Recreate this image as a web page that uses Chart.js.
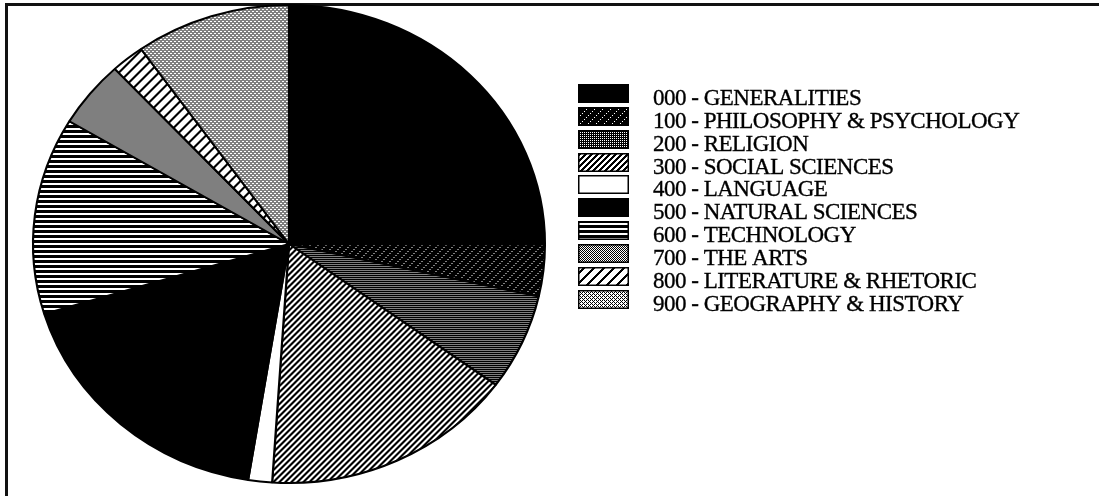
<!DOCTYPE html>
<html lang="en">
<head>
  <meta charset="UTF-8">
  <title>Collection by Dewey class</title>
  <script src="https://cdn.jsdelivr.net/npm/chart.js"></script>
  <style>
    html, body {
      margin: 0;
      padding: 0;
      background: #fff;
    }
    .frame {
      position: relative;
      width: 1099px;
      height: 496px;
      overflow: hidden;
    }
    /* open box: only the top and left rules */
    .frame::before {
      content: "";
      position: absolute;
      left: 5px;
      top: 3px;
      right: -10px;
      bottom: -10px;
      border-top: 3px solid #111;
      border-left: 3px solid #111;
    }
    #pie {
      position: absolute;
      left: 0;
      top: 0;
    }
  </style>
</head>
<body>

<div class="frame">
  <canvas id="pie" width="1099" height="496"></canvas>
</div>

<script>
  const classes = [
    "000 - GENERALITIES",
    "100 - PHILOSOPHY & PSYCHOLOGY",
    "200 - RELIGION",
    "300 - SOCIAL SCIENCES",
    "400 - LANGUAGE",
    "500 - NATURAL SCIENCES",
    "600 - TECHNOLOGY",
    "700 - THE ARTS",
    "800 - LITERATURE & RHETORIC",
    "900 - GEOGRAPHY & HISTORY"
  ];
  // share of the collection, percent
  const shares = [25, 3.5, 6.5, 16, 1.5, 17.7, 13.3, 4.5, 2.1, 9.8];

  const STRETCH_X = 1.071;   // pie is drawn a bit wider than tall

  // small black/white bitmap tiles used as fills
  function tile(w, h, isBlack, sx) {
    const c = document.createElement("canvas");
    c.width = w;
    c.height = h;
    const g = c.getContext("2d");
    for (let y = 0; y < h; y++) {
      for (let x = 0; x < w; x++) {
        g.fillStyle = isBlack(x, y) ? "#000" : "#fff";
        g.fillRect(x, y, 1, 1);
      }
    }
    const p = g.createPattern(c, "repeat");
    if (sx && sx !== 1) p.setTransform(new DOMMatrix().scale(1 / sx, 1));
    return p;
  }

  function makeFills(sx) {
    return [
      "#000",
      tile(8, 8, (x, y) => !((x + y) % 8 === 7 && x % 2 === 0), sx),
      tile(2, 2, (x, y) => !(x === 0 && y === 0), sx),
      tile(6, 6, (x, y) => (x + y) % 6 < 3, sx),
      "#fff",
      "#000",
      tile(4, 5, (x, y) => y < 3, sx),
      tile(2, 2, (x, y) => (x + y) % 2 === 0, sx),
      tile(10, 10, (x, y) => (x + y) % 10 < 3, sx),
      tile(4, 4, (x, y) => (y % 2 === 0 && x % 2 === 0) || (y === 1 && x === 1) || (y === 3 && x === 3), sx)
    ];
  }

  const pieFills = makeFills(STRETCH_X);
  const legendFills = makeFills(1);

  // widen the pie horizontally around its centre
  const stretchPie = {
    id: "stretchPie",
    beforeDatasetsDraw(chart) {
      const arc = chart.getDatasetMeta(0).data[0];
      const ctx = chart.ctx;
      ctx.save();
      ctx.translate(arc.x, arc.y);
      ctx.scale(STRETCH_X, 1);
      ctx.translate(-arc.x, -arc.y);
    },
    afterDatasetsDraw(chart) {
      chart.ctx.restore();
    }
  };

  const LEGEND_X = 578;
  const LEGEND_TOP = 84;
  const LEGEND_STEP = 22.85;

  const sideLegend = {
    id: "sideLegend",
    afterDraw(chart) {
      const ctx = chart.ctx;
      ctx.save();
      ctx.font = '23px "Liberation Serif", "Times New Roman", serif';
      ctx.letterSpacing = "-0.5px";
      ctx.textBaseline = "alphabetic";
      chart.data.labels.forEach((label, i) => {
        const y = Math.round(LEGEND_TOP + i * LEGEND_STEP);
        ctx.fillStyle = legendFills[i];
        ctx.fillRect(LEGEND_X, y, 51, 19);
        ctx.strokeStyle = "#000";
        ctx.lineWidth = 1.5;
        ctx.strokeRect(LEGEND_X + 0.75, y + 0.75, 49.5, 17.5);
        ctx.fillStyle = "#000";
        ctx.fillText(label, 653, y + 21);
        // slightly heavier type
        ctx.lineWidth = 0.35;
        ctx.strokeText(label, 653, y + 21);
      });
      ctx.restore();
    }
  };

  new Chart(document.getElementById("pie"), {
    type: "pie",
    data: {
      labels: classes,
      datasets: [{
        data: shares,
        backgroundColor: pieFills,
        borderColor: "#000",
        borderWidth: 2,
        hoverOffset: 0,
        offset: 0
      }]
    },
    options: {
      responsive: false,
      animation: false,
      events: [],
      layout: {
        padding: { left: 49, right: 570, top: 4, bottom: 12 }
      },
      plugins: {
        legend: { display: false },
        tooltip: { enabled: false }
      }
    },
    plugins: [stretchPie, sideLegend]
  });
</script>

</body>
</html>
